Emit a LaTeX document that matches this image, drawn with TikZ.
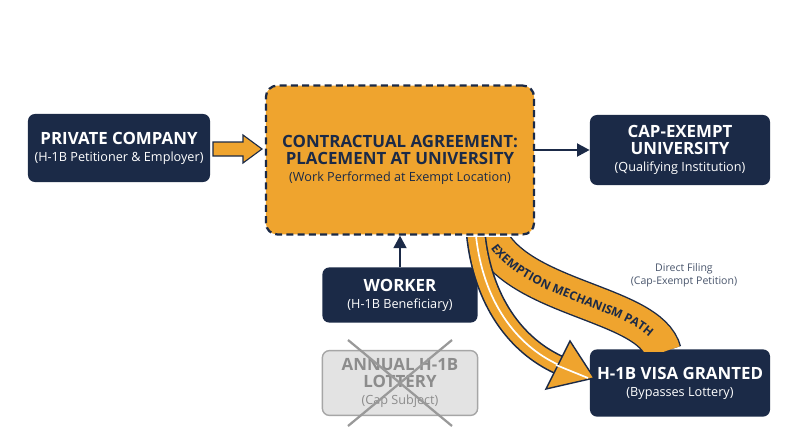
\documentclass[tikz,border=0pt]{standalone}
\usepackage{fontspec}
\setmainfont{Open Sans}
\usetikzlibrary{arrows.meta,decorations.text}
\definecolor{navy}{HTML}{1B2A47}
\definecolor{org}{HTML}{EFA42E}
\newcommand{\ti}{\bfseries\fontsize{12}{14.5}\selectfont}
\newcommand{\su}{\mdseries\fontsize{9}{11.5}\selectfont}
\begin{document}
\begin{tikzpicture}[x=0.025cm,y=-0.025cm,
 box/.style={fill=navy,rounded corners=5pt,text=white,align=center,inner sep=0pt}]
\useasboundingbox[fill=white] (0,0) rectangle (800,447);
\node[box,minimum width=4.55cm,minimum height=1.7cm] (pc) at (119,148) {\ti PRIVATE COMPANY\\ \su (H-1B Petitioner \& Employer)};
\node[fill=org,draw=navy,dash pattern=on 5pt off 3pt,line width=1.6pt,rounded corners=8pt,minimum width=6.7cm,minimum height=3.72cm,align=center,text=navy,inner sep=0pt] (ca) at (400,160) {\ti CONTRACTUAL AGREEMENT:\\ \ti PLACEMENT AT UNIVERSITY\\ \su (Work Performed at Exempt Location)};
\node[box,minimum width=4.5cm,minimum height=1.75cm] (ce) at (680,150) {\ti CAP-EXEMPT\\ \ti UNIVERSITY\\ \su (Qualifying Institution)};
\node[box,minimum width=3.88cm,minimum height=1.38cm] (wk) at (400,295) {\ti WORKER\\ \su (H-1B Beneficiary)};
\node[fill=gray!22,draw=gray!70,line width=1pt,rounded corners=5pt,minimum width=3.88cm,minimum height=1.62cm,align=center,text=gray!90,inner sep=0pt] (lt) at (400,383) {\ti ANNUAL H-1B\\ \ti LOTTERY\\ \su (Cap Subject)};
\coordinate (x1) at (348,340); \coordinate (x2) at (452,426);
\coordinate (x3) at (452,340); \coordinate (x4) at (348,426);
\draw[gray!80,line width=1.6pt] (x1)--(x2) (x3)--(x4);
\node[box,minimum width=4.5cm,minimum height=1.68cm] (hv) at (680,383) {\ti H-1B VISA GRANTED\\ \su (Bypasses Lottery)};
% arrows
\draw[draw=navy,fill=org,line width=0.8pt] (213,142)--(243,142)--(243,135)--(262,149)--(243,163)--(243,156)--(213,156)--cycle;
\draw[navy,line width=2pt,-{Triangle[length=9pt,width=9pt]}] (ca.east|-ce) -- (ce.west);
\draw[navy,line width=2pt,-{Triangle[length=9pt,width=9pt]}] (wk.north) -- (wk.north|-ca.south);
% band
\coordinate (b0) at (485,226); \coordinate (b1) at (663,352);
\begin{scope}
\clip (440,237) rectangle (800,351);
\draw[navy,line width=0.95cm] (b0) .. controls (505,300) and (650,300) .. (b1);
\draw[org,line width=0.88cm] (b0) .. controls (505,300) and (650,300) .. (b1);
\end{scope}
\path[decorate,decoration={text along path,raise=-3pt,text align={align=center},
  text={|\bfseries\fontsize{8.5}{9}\selectfont\color{navy}|EXEMPTION MECHANISM PATH}}]
  (b0) .. controls (505,300) and (650,300) .. (b1);
\node[text=navy!80,align=center,font=\fontsize{7.5}{9}\selectfont] (df) at (684,275) {Direct Filing\\(Cap-Exempt Petition)};
% fat arrow
\coordinate (a0) at (476,236); \coordinate (a1) at (559,365);
\begin{scope}
\clip (440,237) rectangle (800,447);
\draw[navy,line width=0.5cm] (a0) .. controls (483,300) and (515,345) .. (a1);
\draw[org,line width=0.42cm] (a0) .. controls (483,300) and (515,345) .. (a1);
\draw[white,line width=1.2pt] (a0) .. controls (483,300) and (515,345) .. (a1);
\end{scope}
\draw[navy,fill=org,line width=1pt,line join=miter] (570,341)--(594,378)--(546,389)--cycle;
\draw[white,line width=1.2pt] (556,365)--(588,378);
\end{tikzpicture}
\end{document}
